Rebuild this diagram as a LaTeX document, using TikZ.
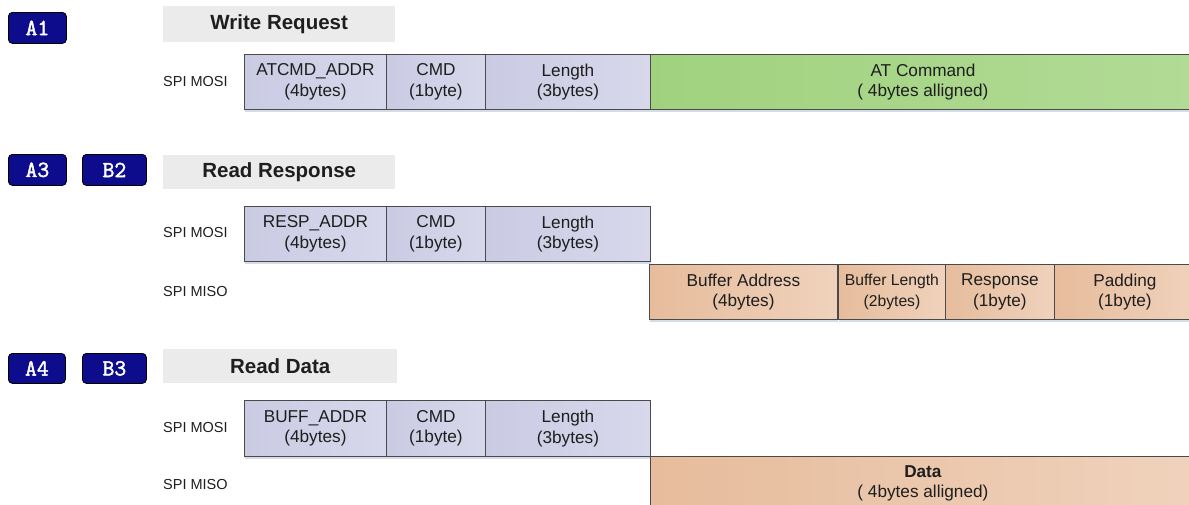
\documentclass[tikz,border=0pt]{standalone}
\usepackage{fontspec}
\setmainfont{Liberation Sans}
\newfontfamily\badgefont[FakeBold=2]{Latin Modern Mono}
\usetikzlibrary{shadows}
\definecolor{badgefill}{HTML}{0C0C8C}
\definecolor{headfill}{HTML}{EBEBEB}
\definecolor{mosiL}{HTML}{CACAE3}
\definecolor{mosiR}{HTML}{D8D8EC}
\definecolor{greenL}{HTML}{A0D27E}
\definecolor{greenR}{HTML}{B2DB96}
\definecolor{peachL}{HTML}{E6BC9C}
\definecolor{peachR}{HTML}{F0D2BC}
\definecolor{edge}{HTML}{4A4A4A}
\definecolor{ink}{HTML}{1E1E1E}
\definecolor{shade}{HTML}{B8C4D8}
\tikzset{
  badge/.style={draw=black, line width=0.8pt, fill=badgefill, rounded corners=4pt,
    text=white, font=\badgefont\fontsize{23}{25}\selectfont,
    inner sep=0pt, anchor=north west},
  header/.style={fill=headfill, text=ink, font=\bfseries\fontsize{20.5}{23}\selectfont,
    inner sep=0pt, anchor=north west},
  field/.style={draw=edge, line width=0.9pt, text=ink, align=center,
    font=\fontsize{17.2}{20.5}\selectfont, inner sep=0pt, anchor=north west,
    drop shadow={shadow xshift=1pt, shadow yshift=-3pt, fill=shade, opacity=0.6}},
  mosi/.style={field, left color=mosiL, right color=mosiR},
  green/.style={field, left color=greenL, right color=greenR},
  peach/.style={field, left color=peachL, right color=peachR},
  sig/.style={text=ink, font=\fontsize{14.5}{17}\selectfont, inner sep=0pt, anchor=west}
}
\begin{document}
\begin{tikzpicture}[x=1pt, y=-1pt]
\useasboundingbox (0,0) rectangle (1189,504);

% ---------- Write Request ----------
\node[badge, minimum width=58pt, minimum height=31pt] (a1) at (8,12) {A1};
\node[header, minimum width=232pt, minimum height=36pt] (h1) at (163,6) {Write Request};
\node[sig] (s1) at (163,82) {SPI MOSI};
\node[mosi, minimum width=142pt, minimum height=55pt] (w1) at (244,54) {ATCMD\_ADDR\\(4bytes)};
\node[mosi, minimum width=99pt, minimum height=55pt] (w2) at (386,54) {CMD\\(1byte)};
\node[mosi, minimum width=165pt, minimum height=55pt] (w3) at (485,54) {Length\\(3bytes)};
\node[green, minimum width=545pt, minimum height=55pt] (w4) at (650,54) {AT Command\\( 4bytes alligned)};

% ---------- Read Response ----------
\node[badge, minimum width=58pt, minimum height=31pt] (a3) at (8,154) {A3};
\node[badge, minimum width=64pt, minimum height=31pt] (b2) at (82,154) {B2};
\node[header, minimum width=232pt, minimum height=34pt] (h2) at (163,155) {Read Response};
\node[sig] (s2) at (163,233) {SPI MOSI};
\node[sig] (s3) at (163,292) {SPI MISO};
\node[mosi, minimum width=142pt, minimum height=55pt] (r1) at (244,206) {RESP\_ADDR\\(4bytes)};
\node[mosi, minimum width=99pt, minimum height=55pt] (r2) at (386,206) {CMD\\(1byte)};
\node[mosi, minimum width=165pt, minimum height=55pt] (r3) at (485,206) {Length\\(3bytes)};
\node[peach, minimum width=188pt, minimum height=55pt] (p1) at (649,264) {Buffer Address\\(4bytes)};
\node[peach, minimum width=107pt, minimum height=55pt, font=\fontsize{15.7}{20.5}\selectfont] (p2) at (838,264) {Buffer Length\\(2bytes)};
\node[peach, minimum width=109pt, minimum height=55pt] (p3) at (945,264) {Response\\(1byte)};
\node[peach, minimum width=141pt, minimum height=55pt] (p4) at (1054,264) {Padding\\(1byte)};

% ---------- Read Data ----------
\node[badge, minimum width=57pt, minimum height=30pt] (a4) at (8,353) {A4};
\node[badge, minimum width=64pt, minimum height=30pt] (b3) at (82,353) {B3};
\node[header, minimum width=234pt, minimum height=34pt] (h3) at (163,349) {Read Data};
\node[sig] (s4) at (163,428) {SPI MOSI};
\node[sig] (s5) at (163,484) {SPI MISO};
\node[mosi, minimum width=142pt, minimum height=56pt] (d1) at (244,400) {BUFF\_ADDR\\(4bytes)};
\node[mosi, minimum width=99pt, minimum height=56pt] (d2) at (386,400) {CMD\\(1byte)};
\node[mosi, minimum width=165pt, minimum height=56pt] (d3) at (485,400) {Length\\(3bytes)};
\node[peach, minimum width=545pt, minimum height=54pt] (d4) at (650,456) {\textbf{Data}\\( 4bytes alligned)};
\end{tikzpicture}
\end{document}
